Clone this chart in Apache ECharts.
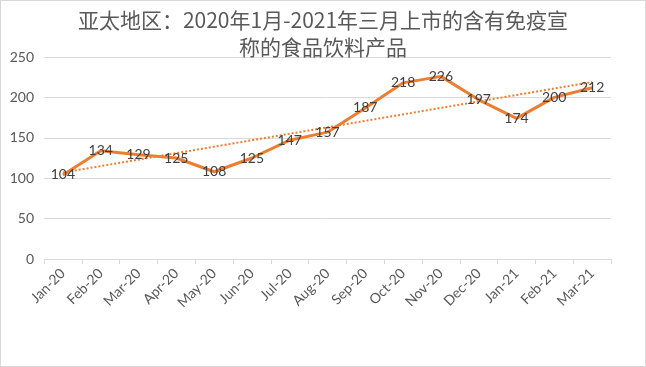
<!DOCTYPE html>
<html><head><meta charset="utf-8">
<script src="https://cdn.jsdelivr.net/npm/echarts@6/dist/echarts.min.js"></script>
<style>html,body{margin:0;padding:0;background:#fff}#c{width:646px;height:367px;box-sizing:border-box;border:1px solid #d9d9d9}</style>
</head><body><div id="c"></div>
<script>
const titleText = '亚太地区：2020年1月-2021年三月上市的含有免疫宣\n称的食品饮料产品';
const categories = ['Jan-20','Feb-20','Mar-20','Apr-20','May-20','Jun-20','Jul-20','Aug-20','Sep-20','Oct-20','Nov-20','Dec-20','Jan-21','Feb-21','Mar-21'];
const values = [104,134,129,125,108,125,147,157,187,218,226,197,174,200,212];
// trendline endpoints (first and last category)
const trendValues = [107,null,null,null,null,null,null,null,null,null,null,null,null,null,219];
const yTicks = {min:0, max:250, interval:50};

const chart = echarts.init(document.getElementById('c'), null, {renderer:'canvas'});
chart.setOption({
  animation:false,
  title:{text:titleText,left:'center',top:1,
    textStyle:{fontFamily:'Noto Sans CJK SC',fontSize:21,fontWeight:'normal',color:'#595959',lineHeight:27}},
  grid:{left:43,right:34,top:56,bottom:107,containLabel:false},
  xAxis:{type:'category',data:categories,boundaryGap:true,
    axisLine:{lineStyle:{color:'#d9d9d9',width:1}},
    axisTick:{show:true,length:5,lineStyle:{color:'#d9d9d9'}},
    axisLabel:{rotate:45,color:'#595959',fontFamily:'Lato',fontSize:14,margin:12,interval:0}},
  yAxis:{type:'value',min:yTicks.min,max:yTicks.max,interval:yTicks.interval,
    axisLine:{show:false},axisTick:{show:false},
    splitLine:{lineStyle:{color:'#d9d9d9',width:1}},
    axisLabel:{color:'#595959',fontFamily:'Lato',fontSize:14,margin:10}},
  series:[
    {type:'line',data:trendValues,connectNulls:true,showSymbol:false,symbol:'none',
      lineStyle:{color:'#ED7D31',width:2,type:[2,2]},z:3},
    {type:'line',data:values,showSymbol:true,symbol:'circle',symbolSize:2,
      itemStyle:{color:'rgba(237,125,49,0)',borderWidth:0},
      lineStyle:{color:'#ED7D31',width:3},
      label:{show:true,position:'inside',color:'#404040',fontFamily:'Lato',fontSize:14,opacity:1},z:4}
  ]
});
</script></body></html>
